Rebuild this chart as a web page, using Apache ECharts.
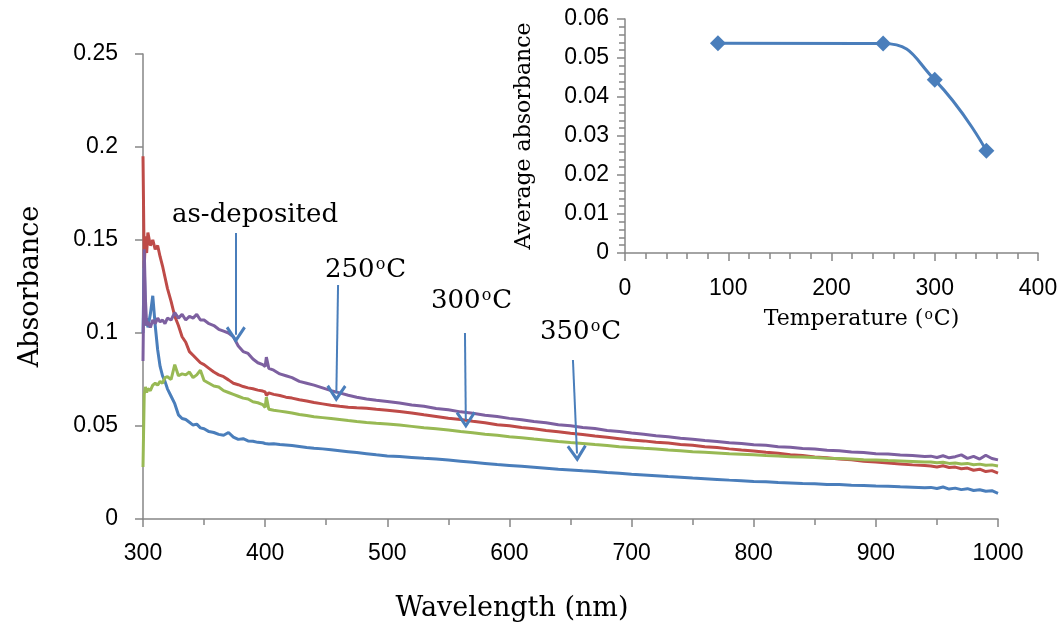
<!DOCTYPE html>
<html>
<head>
<meta charset="utf-8">
<script src="https://cdn.jsdelivr.net/npm/echarts@6/dist/echarts.min.js"></script>
<style>
  html, body { margin: 0; padding: 0; background: #fff; }
  #chart { width: 1062px; height: 629px; }
</style>
</head>
<body>
<div id="chart"></div>
<script>
// Wavelength grid (nm) shared by the four absorbance spectra
const wavelengths = [
  300,301,302,303,304,306,308,310,312,314,316,318,320,323,326,329,332,335,338,341,344,347,350,
  354,358,362,366,370,374,378,382,386,390,394,398,400,401,403,407,412,417,422,428,434,440,
  447,454,461,468,475,483,491,500,
  510,520,530,540,550,560,570,580,590,600,610,620,630,640,650,660,670,680,690,700,
  710,720,730,740,750,760,770,780,790,800,810,820,830,840,850,860,870,880,890,900,
  910,920,930,940,
  945,950,955,960,965,970,975,980,985,990,995,1000
];

// Absorbance spectra
const absAsDeposited = [
  .085,.145,.118,.104,.106,.103,.107,.105,.108,.106,.107,.105,.108,.107,.111,.108,.110,.107,.109,.108,.110,.107,.107,
  .105,.104,.102,.101,.100,.098,.093,.090,.089,.086,.084,.083,.082,.087,.081,.080,.078,.077,.076,.074,.073,.072,
  .0705,.069,.0678,.0665,.0655,.0645,.0638,.0632,
  .0624,.0613,.0606,.0594,.0587,.0576,.0569,.0558,.0551,.0541,.0534,.0524,.0518,.0507,.0501,.0492,.0486,.0476,.0470,.0462,
  .0456,.0448,.0442,.0434,.0429,.0422,.0417,.0410,.0406,.0399,.0396,.0389,.0386,.0379,.0376,.0369,.0367,.0360,.0357,.0351,
  .0349,.0344,.0342,.0336,
  .0338,.0331,.0340,.0329,.0335,.0345,.0326,.0337,.0322,.0343,.0325,.0318
];
const abs250 = [
  .195,.135,.152,.143,.154,.147,.150,.145,.147,.141,.136,.130,.124,.117,.109,.104,.098,.095,.090,.088,.086,.084,.083,
  .081,.079,.0775,.0765,.0748,.073,.0722,.0712,.0705,.0700,.0693,.0688,.0683,.0665,.0678,.0670,.0664,.0655,.0650,.0641,.0634,.0626,
  .0619,.0612,.0606,.0601,.0598,.0595,.0590,.0585,
  .0578,.0570,.0560,.0551,.0542,.0535,.0525,.0518,.0507,.0501,.0492,.0485,.0476,.0469,.0461,.0454,.0446,.0439,.0432,.0425,
  .0420,.0413,.0408,.0400,.0396,.0389,.0384,.0377,.0371,.0366,.0359,.0354,.0346,.0341,.0334,.0329,.0322,.0318,.0311,.0306,
  .0301,.0296,.0291,.0287,
  .0285,.0280,.0286,.0277,.0279,.0270,.0274,.0262,.0268,.0255,.0260,.0247
];
const abs300 = [
  .028,.067,.071,.068,.070,.069,.072,.073,.072,.074,.073,.076,.0765,.075,.083,.077,.078,.0775,.079,.076,.0775,.080,.0745,
  .073,.0715,.071,.069,.068,.067,.066,.065,.0645,.063,.0625,.0615,.060,.0655,.059,.0585,.058,.0575,.057,.0562,.0556,.0550,
  .0545,.0540,.0535,.0529,.0524,.0519,.0515,.0511,
  .0505,.0498,.0491,.0485,.0478,.0470,.0464,.0456,.0450,.0442,.0437,.0430,.0424,.0417,.0411,.0406,.0400,.0395,.0389,.0385,
  .0380,.0376,.0371,.0367,.0362,.0359,.0355,.0351,.0348,.0345,.0341,.0339,.0335,.0333,.0330,.0327,.0325,.0322,.0319,.0317,
  .0314,.0312,.0309,.0306,
  .0306,.0302,.0305,.0299,.0301,.0296,.0299,.0292,.0295,.0289,.0291,.0285
];
const abs350 = [
  .100,.139,.104,.108,.103,.110,.120,.104,.091,.082,.077,.074,.070,.066,.062,.056,.054,.0535,.052,.0505,.051,.049,.0485,
  .047,.0465,.0455,.045,.0465,.044,.0428,.0432,.0420,.0418,.0412,.0410,.0406,.0412,.0403,.0405,.0400,.0398,.0395,.0390,.0385,.0381,
  .0377,.0372,.0367,.0362,.0357,.0351,.0345,.0339,
  .0336,.0331,.0326,.0322,.0317,.0311,.0305,.0299,.0293,.0288,.0283,.0278,.0273,.0268,.0264,.0259,.0255,.0250,.0246,.0241,
  .0237,.0233,.0228,.0224,.0220,.0217,.0213,.0209,.0206,.0202,.0200,.0196,.0194,.0191,.0189,.0186,.0185,.0182,.0180,.0177,
  .0176,.0173,.0171,.0168,
  .0170,.0164,.0172,.0161,.0166,.0158,.0163,.0153,.0157,.0149,.0152,.0138
];

// Inset: average absorbance versus annealing temperature
const tempC = [90, 250, 300, 350];
const avgAbsorbance = [0.0538, 0.0537, 0.0444, 0.0262];

// Annotation arrows [wavelength, absorbance] : tail -> head
const arrowTails = [[376, 0.1538], [459.7, 0.1258], [563.6, 0.1000], [652, 0.0855]];
const arrowHeads = [[376, 0.0990], [458.3, 0.0675], [564.3, 0.0532], [655.3, 0.0352]];

const SERIF = '"DejaVu Serif", "Liberation Serif", serif';
const SANS = '"Liberation Sans", Arial, sans-serif';
const AXIS_GREY = '#868686';
const ARROW_BLUE = '#4a7ebb';
const chevron = 'path://M10 0 L20 16 L17.6 18 L10 6 L2.4 18 L0 16 Z';

const pairs = arr => wavelengths.map((w, i) => [w, arr[i]]);

const spectrum = (name, color, values) => ({
  name, type: 'line', xAxisIndex: 0, yAxisIndex: 0,
  data: pairs(values), showSymbol: false, symbol: 'none',
  lineStyle: { color, width: 3 }, itemStyle: { color },
  animation: false, silent: true, z: 3
});

const supRich = size => ({ s: { fontFamily: SERIF, fontSize: size, verticalAlign: 'top', padding: [0, 1, 0, 1] } });

const chart = echarts.init(document.getElementById('chart'), null, { renderer: 'canvas' });

const blue = spectrum('350 °C', '#4a7ebb', abs350);
const red = spectrum('250 °C', '#be4b48', abs250);
const green = spectrum('300 °C', '#98b954', abs300);
const purple = spectrum('as-deposited', '#7d60a0', absAsDeposited);
purple.markLine = {
  silent: true, animation: false,
  symbol: ['none', chevron], symbolSize: [20, 17],
  label: { show: false },
  lineStyle: { color: ARROW_BLUE, width: 2, type: 'solid' },
  data: arrowTails.map((t, i) => [{ coord: t }, { coord: arrowHeads[i] }])
};

const plain = v => String(v);

chart.setOption({
  backgroundColor: '#fff',
  animation: false,
  grid: [
    { left: 143, top: 54, right: 64, bottom: 110 },
    { left: 625, top: 19, right: 24, bottom: 376 }
  ],
  xAxis: [
    {
      gridIndex: 0, type: 'value', min: 300, max: 1000, interval: 100,
      name: 'Wavelength (nm)', nameLocation: 'middle', nameGap: 76,
      nameTextStyle: { fontFamily: SERIF, fontSize: 27, color: '#000', padding: [0, 117, 0, 0] },
      axisLine: { lineStyle: { color: AXIS_GREY, width: 1.5 } },
      axisTick: { show: true, inside: false, length: 8, lineStyle: { color: AXIS_GREY, width: 1.5 } },
      minorTick: { show: true, splitNumber: 2, length: 6, lineStyle: { color: AXIS_GREY, width: 1.5 } },
      splitLine: { show: false },
      axisLabel: { fontFamily: SANS, fontSize: 23, color: '#000', margin: 23, formatter: plain }
    },
    {
      gridIndex: 1, type: 'value', min: 0, max: 400, interval: 100,
      name: 'Temperature ({s|o}C)', nameLocation: 'middle', nameGap: 55,
      nameTextStyle: { fontFamily: SERIF, fontSize: 22, color: '#000', padding: [0, 0, 0, 60], rich: supRich(14) },
      axisLine: { onZero: false, lineStyle: { color: AXIS_GREY, width: 1.5 } },
      axisTick: { show: true, inside: false, length: 8, lineStyle: { color: AXIS_GREY, width: 1.5 } },
      minorTick: { show: true, splitNumber: 5, length: 6, lineStyle: { color: AXIS_GREY, width: 1.5 } },
      splitLine: { show: false },
      axisLabel: { fontFamily: SANS, fontSize: 23, color: '#000', margin: 24, formatter: plain }
    }
  ],
  yAxis: [
    {
      gridIndex: 0, type: 'value', min: 0, max: 0.25, interval: 0.05,
      name: 'Absorbance', nameLocation: 'middle', nameGap: 99,
      nameTextStyle: { fontFamily: SERIF, fontSize: 27, color: '#000' },
      axisLine: { show: true, lineStyle: { color: AXIS_GREY, width: 1.5 } },
      axisTick: { show: true, inside: false, length: 8, lineStyle: { color: AXIS_GREY, width: 1.5 } },
      splitLine: { show: false },
      axisLabel: { fontFamily: SANS, fontSize: 23, color: '#000', margin: 25 }
    },
    {
      gridIndex: 1, type: 'value', min: 0, max: 0.06, interval: 0.01,
      name: 'Average absorbance', nameLocation: 'middle', nameGap: 90,
      nameTextStyle: { fontFamily: SERIF, fontSize: 22, color: '#000' },
      axisLine: { show: true, onZero: false, lineStyle: { color: AXIS_GREY, width: 1.5 } },
      axisTick: { show: true, inside: false, length: 8, lineStyle: { color: AXIS_GREY, width: 1.5 } },
      minorTick: { show: true, splitNumber: 5, length: 6, lineStyle: { color: AXIS_GREY, width: 1.5 } },
      splitLine: { show: false },
      axisLabel: {
        fontFamily: SANS, fontSize: 23, color: '#000', margin: 16,
        formatter: v => (v === 0 ? '0' : v.toFixed(2))
      }
    }
  ],
  series: [
    blue, red, green, purple,
    {
      name: 'Average absorbance', type: 'line', xAxisIndex: 1, yAxisIndex: 1,
      data: tempC.map((t, i) => [t, avgAbsorbance[i]]),
      smooth: 0.5, symbol: 'diamond', symbolSize: 16,
      lineStyle: { color: '#4a7ebb', width: 3 }, itemStyle: { color: '#4a7ebb' },
      animation: false, silent: true, z: 4
    }
  ],
  graphic: [
    { type: 'text', left: 172, top: 202, style: { text: 'as-deposited', font: '26px ' + SERIF, fill: '#000' } },
    { type: 'text', left: 325, top: 257, style: { text: '250{s|o}C', font: '26px ' + SERIF, fill: '#000', rich: supRich(16) } },
    { type: 'text', left: 431, top: 288, style: { text: '300{s|o}C', font: '26px ' + SERIF, fill: '#000', rich: supRich(16) } },
    { type: 'text', left: 540, top: 319, style: { text: '350{s|o}C', font: '26px ' + SERIF, fill: '#000', rich: supRich(16) } }
  ]
});
</script>
</body>
</html>
